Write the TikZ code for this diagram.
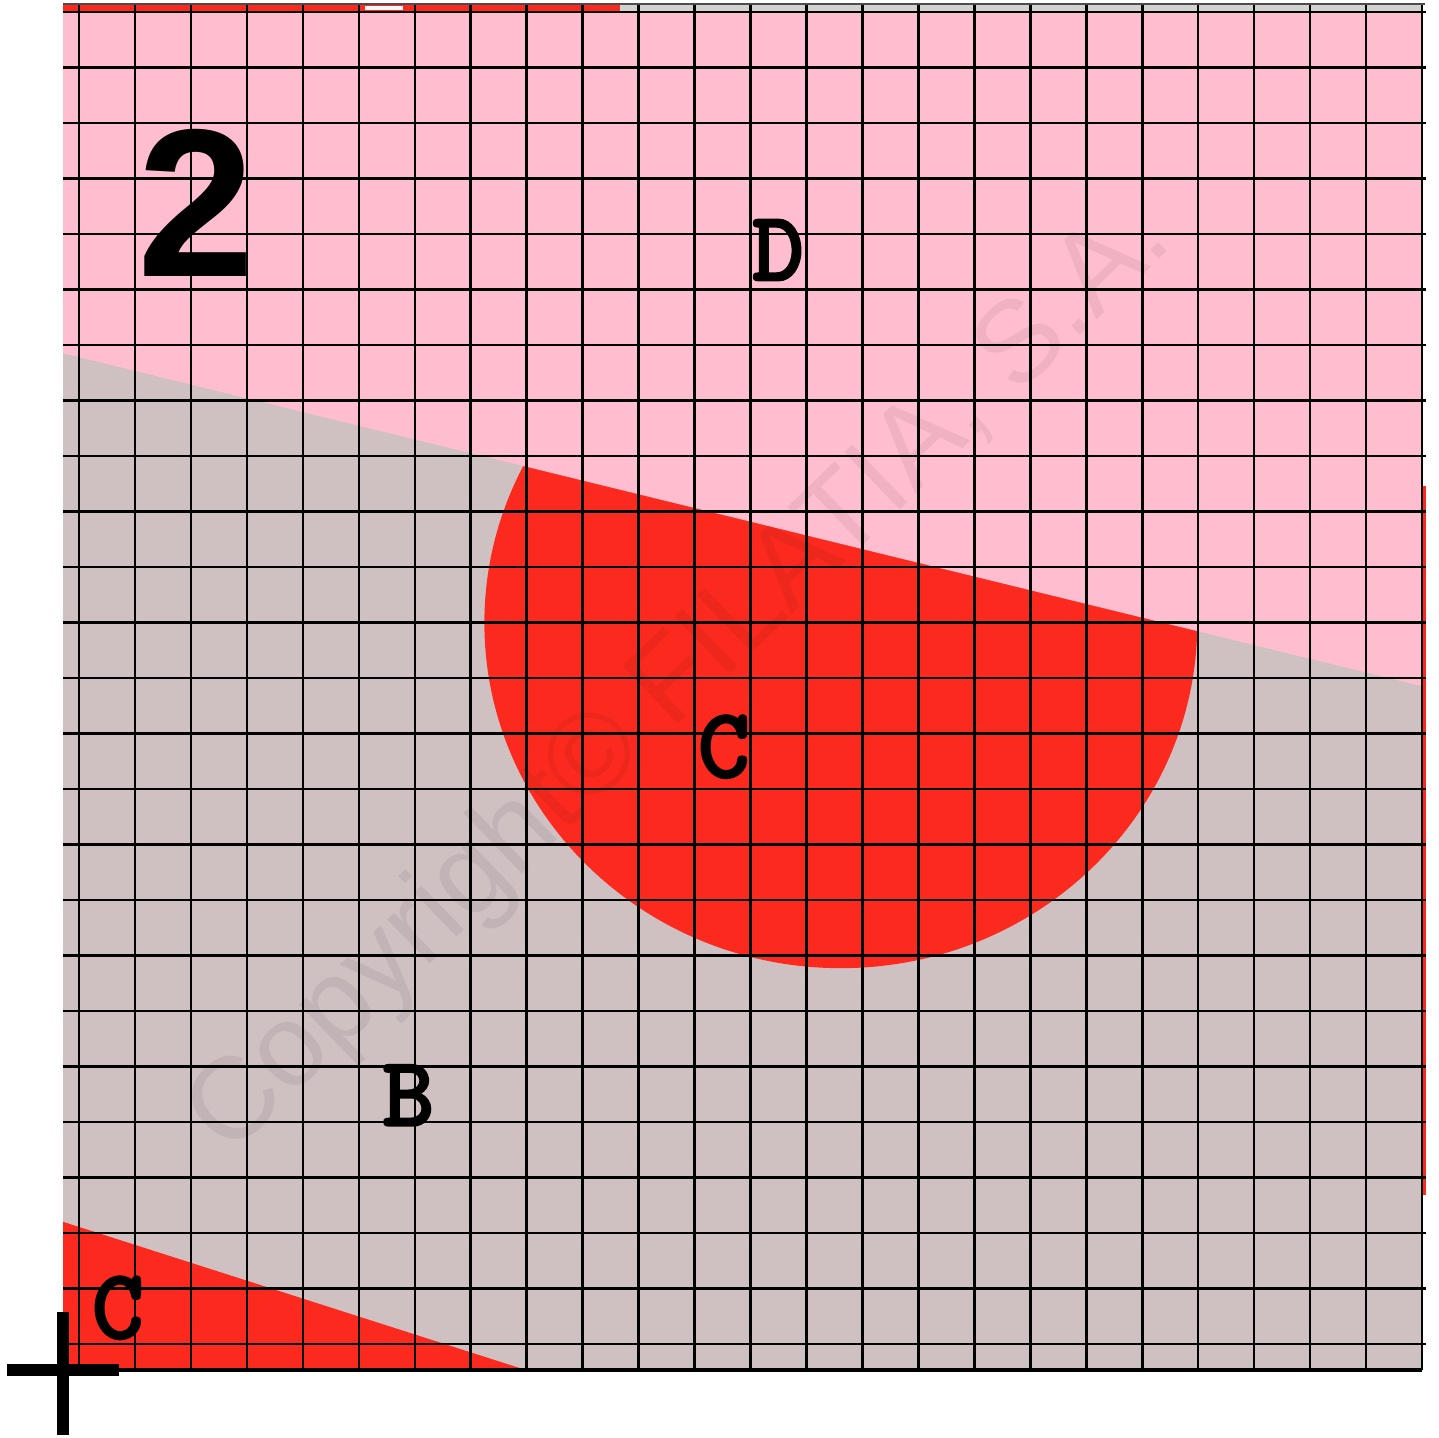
\documentclass[tikz,border=0pt]{standalone}
\usepackage{fontspec}
\setmainfont{Liberation Sans}
\newfontfamily\lettfont{lmmonolt10-bold.otf}[FakeBold=1.6]
\usepackage{tikz}
\definecolor{zoneD}{RGB}{255,190,207}
\definecolor{zoneB}{RGB}{207,192,194}
\definecolor{zoneC}{RGB}{252,42,30}
\newcommand\Wd{24.29}
\newcommand\Ht{24.61}

\begin{document}
\begin{tikzpicture}[x=5.596mm, y=5.55mm,
    gline/.style = {black, line width=0.25mm},
    letter/.style = {inner sep=0pt, font=\lettfont\fontsize{28.5}{28.5}\selectfont}]
  \useasboundingbox (-1.126,-1.225) rectangle (24.589,24.685);
  % zones B, C, D
  \fill[zoneB] (0,0) rectangle (\Wd,24.47);
  \fill[zoneC] (13.90,13.46) ellipse [x radius=6.37, y radius=6.22];
  \fill[zoneD] (0,18.32) -- (\Wd,12.32) -- (\Wd,24.47) -- (0,24.47) -- cycle;
  \fill[zoneC] (0,0) -- (0,2.67) -- (8.27,0) -- cycle;
  % strip along the top
  \fill[zoneC] (0,24.47) rectangle (9.95,\Ht);
  \fill[gray!35] (9.95,24.47) rectangle (\Wd,\Ht);
  \fill[white!85!zoneD] (5.4,24.5) rectangle (6.08,24.58);
  \draw[zoneC, line width=0.35mm] (24.33,3.15) -- (24.33,15.93);
  % watermark
  \node[rotate=44, text=black, text opacity=0.06, inner sep=0pt,
        font=\fontsize{33}{33}\selectfont] (wm) at (11.05,12.45) {Copyright© FILATIA, S.A.};
  % grid
  \foreach \k in {0,1,...,24} {
    \draw[gline] (0.286+\k,0) -- (0.286+\k,\Ht);
    \draw[gline] (0,0.468+\k) -- (24.36,0.468+\k);
  }
  \draw[black, line width=0.4mm] (0,0) -- (\Wd,0);
  \draw[black!70, line width=0.15mm] (0,\Ht) -- (24.33,\Ht);
  % cross
  \draw[black, line width=1.2mm] (0,-1.17) -- (0,1.05);
  \draw[black, line width=1.2mm] (-1,0) -- (1,0);
  % labels
  \node[inner sep=0pt, font=\bfseries\fontsize{60}{60}\selectfont] (two) at (2.38,21.03) {2};
  \node[letter] (d) at (12.78,20.18) {D};
  \node[letter] (c) at (11.81,11.23) {C};
  \node[letter] (b) at (6.17,4.95) {B};
  \node[letter] (cc) at (0.98,1.12) {C};
\end{tikzpicture}
\end{document}
